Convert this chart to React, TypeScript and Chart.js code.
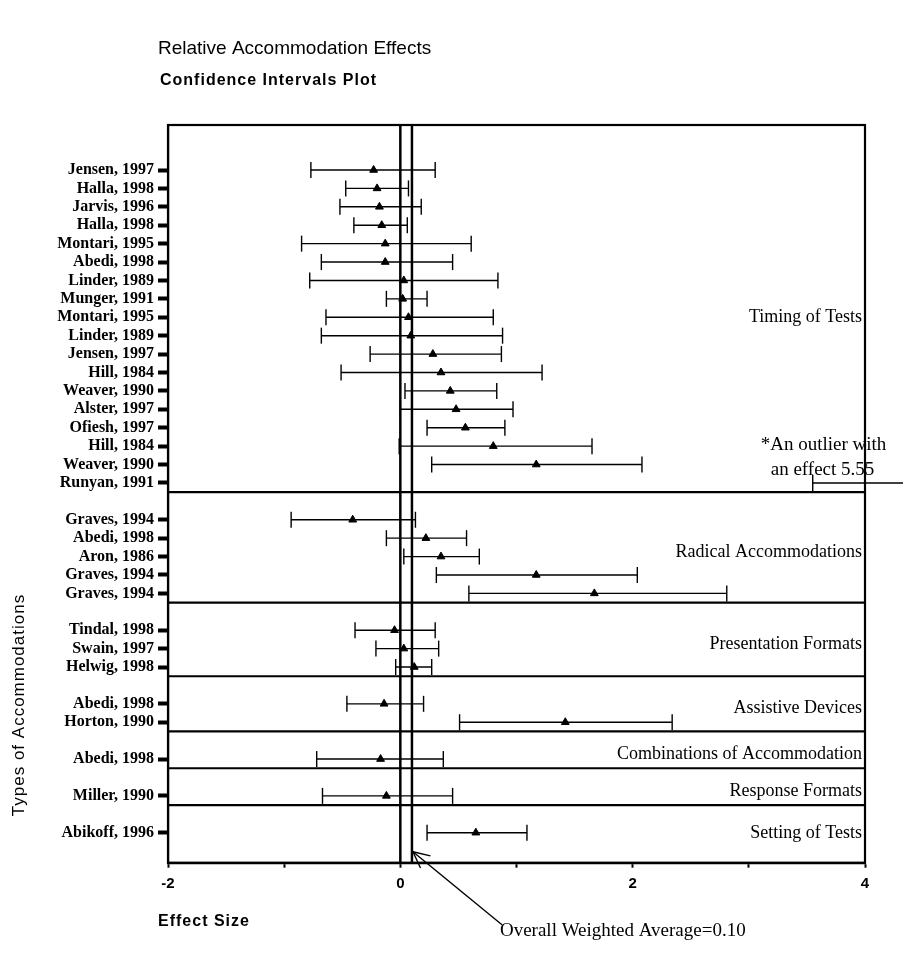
import React, { useEffect, useRef } from "react";
import { Chart, registerables } from "chart.js";

Chart.register(...registerables);

// ---------- data ----------
const groupNames = [
  "Timing of Tests",
  "Radical Accommodations",
  "Presentation Formats",
  "Assistive Devices",
  "Combinations of Accommodation",
  "Response Formats",
  "Setting of Tests",
];
const groupSizes = [18, 5, 3, 2, 1, 1, 1];

const studies = [
  "Jensen, 1997", "Halla, 1998", "Jarvis, 1996", "Halla, 1998", "Montari, 1995", "Abedi, 1998",
  "Linder, 1989", "Munger, 1991", "Montari, 1995", "Linder, 1989", "Jensen, 1997", "Hill, 1984",
  "Weaver, 1990", "Alster, 1997", "Ofiesh, 1997", "Hill, 1984", "Weaver, 1990", "Runyan, 1991",
  "Graves, 1994", "Abedi, 1998", "Aron, 1986", "Graves, 1994", "Graves, 1994",
  "Tindal, 1998", "Swain, 1997", "Helwig, 1998",
  "Abedi, 1998", "Horton, 1990",
  "Abedi, 1998",
  "Miller, 1990",
  "Abikoff, 1996",
];
const effects = [
  -0.23, -0.2, -0.18, -0.16, -0.13, -0.13, 0.03, 0.02, 0.07, 0.09, 0.28, 0.35, 0.43, 0.48, 0.56, 0.8, 1.17, 5.55,
  -0.41, 0.22, 0.35, 1.17, 1.67,
  -0.05, 0.03, 0.12,
  -0.14, 1.42,
  -0.17,
  -0.12,
  0.65,
];
const lowerCI = [
  -0.77, -0.47, -0.52, -0.4, -0.85, -0.68, -0.78, -0.12, -0.64, -0.68, -0.26, -0.51, 0.04, 0.0, 0.23, -0.01, 0.27, 3.55,
  -0.94, -0.12, 0.03, 0.31, 0.59,
  -0.39, -0.21, -0.04,
  -0.46, 0.51,
  -0.72,
  -0.67,
  0.23,
];
const upperCI = [
  0.3, 0.07, 0.18, 0.06, 0.61, 0.45, 0.84, 0.23, 0.8, 0.88, 0.87, 1.22, 0.83, 0.97, 0.9, 1.65, 2.08, 7.55,
  0.13, 0.57, 0.68, 2.04, 2.81,
  0.3, 0.33, 0.27,
  0.2, 2.34,
  0.37,
  0.45,
  1.09,
];
const xTickValues = [-2, -1, 0, 1, 2, 3, 4];
const xTickLabels = ["-2", "", "0", "", "2", "", "4"];
const overallAverage = 0.1;
const outlierIndex = 17;

// ---------- derived layout (slots: one empty slot between groups) ----------
type Row = { label: string; mean: number; lo: number; hi: number; slot: number; group: number };
const rows: Row[] = [];
const groupBands: { first: number; last: number }[] = [];
{
  let i = 0;
  let slot = 0;
  groupSizes.forEach((n, g) => {
    const first = slot;
    for (let k = 0; k < n; k++) {
      rows.push({ label: studies[i], mean: effects[i], lo: lowerCI[i], hi: upperCI[i], slot, group: g });
      i++;
      slot++;
    }
    groupBands.push({ first, last: slot - 1 });
    slot++; // blank slot
  });
}
const slotLabel: Record<number, string> = {};
rows.forEach((r) => (slotLabel[r.slot] = r.label));
const Y_MIN = -2.445;
const Y_MAX = 37.63;

const SERIF = "'Liberation Serif', 'Times New Roman', serif";
const SANS = "'Liberation Sans', Arial, sans-serif";

const overlayPlugin = {
  id: "overlay",
  beforeDatasetsDraw(chart: any) {
    const { ctx, chartArea: a, scales } = chart;
    const x = scales.x;
    const y = scales.y;
    const seg = (x1: number, y1: number, x2: number, y2: number) => {
      ctx.beginPath();
      ctx.moveTo(x1, y1);
      ctx.lineTo(x2, y2);
      ctx.stroke();
    };
    ctx.save();
    ctx.strokeStyle = "#000";
    // reference lines
    ctx.lineWidth = 2.5;
    [0, overallAverage].forEach((v) => {
      const px = x.getPixelForValue(v);
      seg(px, a.top, px, a.bottom);
    });
    // group separators
    ctx.lineWidth = 2.2;
    groupBands.slice(0, -1).forEach((b) => {
      const py = y.getPixelForValue(b.last + 0.5);
      seg(a.left, py, a.right, py);
    });
    // error bars
    ctx.lineWidth = 1.4;
    rows.forEach((r) => {
      const py = y.getPixelForValue(r.slot);
      const l = x.getPixelForValue(r.lo);
      const u = x.getPixelForValue(r.hi);
      seg(l, py, u, py);
      seg(l, py - 8, l, py + 8);
      seg(u, py - 8, u, py + 8);
    });
    // plot box
    ctx.lineWidth = 2.2;
    ctx.strokeRect(a.left, a.top, a.right - a.left, a.bottom - a.top);
    // group labels
    ctx.fillStyle = "#000";
    ctx.font = `18px ${SERIF}`;
    ctx.textAlign = "right";
    ctx.textBaseline = "middle";
    groupBands.forEach((b, g) => {
      const top = g === 0 ? Y_MIN : groupBands[g - 1].last + 0.5;
      const bottom = g === groupBands.length - 1 ? Y_MAX : b.last + 0.5;
      const center = ((top + bottom) / 2 + (b.first + b.last) / 2) / 2;
      ctx.fillText(groupNames[g], a.right - 3, y.getPixelForValue(center));
    });
    ctx.restore();
  },
  afterDraw(chart: any) {
    const { ctx, chartArea: a, scales } = chart;
    const x = scales.x;
    const y = scales.y;
    ctx.save();
    ctx.fillStyle = "#000";
    ctx.strokeStyle = "#000";
    ctx.textBaseline = "middle";
    ctx.textAlign = "left";
    // titles
    ctx.font = `19px ${SANS}`;
    ctx.fillText("Relative Accommodation Effects", 150, 41);
    ctx.font = `bold 16px ${SANS}`;
    (ctx as any).letterSpacing = "1px";
    ctx.fillText("Confidence Intervals Plot", 152, 73);
    ctx.fillText("Effect Size", 150, 914);
    // vertical axis title
    ctx.save();
    ctx.translate(11, 697);
    ctx.rotate(-Math.PI / 2);
    ctx.textAlign = "center";
    ctx.font = `17px ${SANS}`;
    ctx.fillText("Types of Accommodations", 0, 0);
    ctx.restore();
    (ctx as any).letterSpacing = "0px";
    // outlier note
    const out = rows[outlierIndex];
    const ox = x.getPixelForValue(out.lo) - 52;
    const oy = y.getPixelForValue(out.slot);
    ctx.font = `19px ${SERIF}`;
    ctx.fillText("*An outlier with", ox, oy - 38);
    ctx.fillText("an effect 5.55", ox + 10, oy - 13);
    // overall weighted average annotation
    const ax = x.getPixelForValue(overallAverage);
    const tx = ax + 88;
    const ty = a.bottom + 68;
    ctx.font = `19px ${SERIF}`;
    ctx.fillText("Overall Weighted Average=0.10", tx, ty);
    const tipX = ax + 1;
    const tipY = a.bottom - 11;
    ctx.lineWidth = 1.4;
    ctx.beginPath();
    ctx.moveTo(tx + 2, ty - 6);
    ctx.lineTo(tipX, tipY);
    ctx.stroke();
    const ang = Math.atan2(ty - 6 - tipY, tx + 2 - tipX);
    [0.45, -0.45].forEach((d) => {
      ctx.beginPath();
      ctx.moveTo(tipX, tipY);
      ctx.lineTo(tipX + 18 * Math.cos(ang + d), tipY + 18 * Math.sin(ang + d));
      ctx.stroke();
    });
    ctx.restore();
  },
};

export default function App() {
  const ref = useRef<HTMLCanvasElement | null>(null);
  useEffect(() => {
    if (!ref.current) return;
    const chart = new Chart(ref.current, {
      type: "scatter",
      data: {
        datasets: [
          {
            data: rows.map((r) => ({ x: r.mean, y: r.slot })),
            pointStyle: "triangle",
            radius: 4.5,
            backgroundColor: "#000",
            borderColor: "#000",
            borderWidth: 1,
          },
        ],
      },
      options: {
        responsive: false,
        animation: false,
        layout: { padding: { left: 0, right: 38, top: 117, bottom: 0 } },
        plugins: { legend: { display: false }, tooltip: { enabled: false }, title: { display: false } },
        scales: {
          x: {
            type: "linear",
            min: -2,
            max: 4,
            afterBuildTicks: (s: any) => {
              s.ticks = xTickValues.map((v) => ({ value: v }));
            },
            afterFit: (s: any) => {
              s.height = 86.3;
            },
            ticks: {
              autoSkip: false,
              maxRotation: 0,
              padding: 7,
              color: "#000",
              font: { family: SANS, size: 15, weight: "bold" },
              callback: (v: any) => xTickLabels[xTickValues.indexOf(Number(v))] ?? "",
            },
            grid: { drawOnChartArea: false, drawTicks: true, tickLength: 5, tickWidth: 2, tickColor: "#000" },
            border: { display: true, color: "#000", width: 2.2 },
          },
          y: {
            type: "linear",
            reverse: true,
            min: Y_MIN,
            max: Y_MAX,
            afterBuildTicks: (s: any) => {
              s.ticks = rows.map((r) => ({ value: r.slot }));
            },
            afterFit: (s: any) => {
              s.width = 160;
            },
            ticks: {
              autoSkip: false,
              padding: 4,
              color: "#000",
              font: { family: SERIF, size: 16, weight: "bold" },
              callback: (v: any) => slotLabel[Number(v)] ?? "",
            },
            grid: { drawOnChartArea: false, drawTicks: true, tickLength: 10, tickWidth: 4, tickColor: "#000" },
            border: { display: true, color: "#000", width: 2.2 },
          },
        },
      },
      plugins: [overlayPlugin],
    });
    return () => chart.destroy();
  }, []);
  return <canvas ref={ref} width={895} height={941} style={{ display: "block" }} />;
}
